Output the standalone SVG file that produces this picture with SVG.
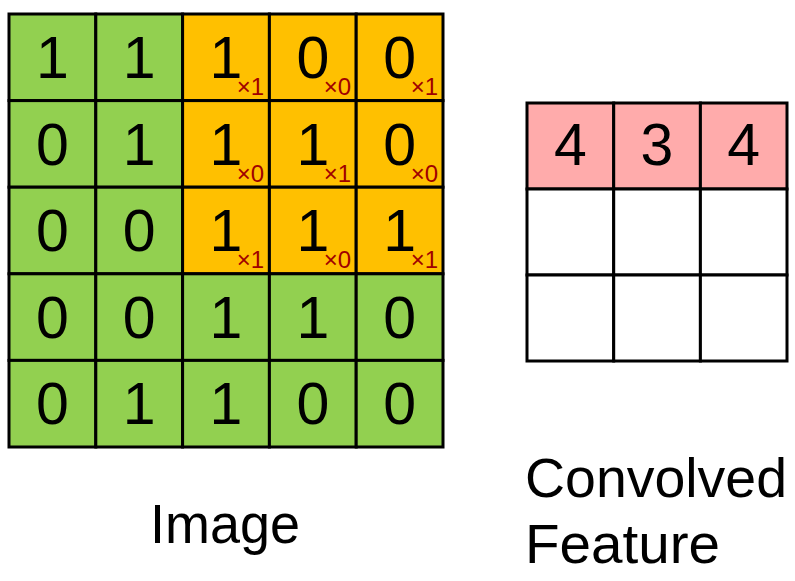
<svg xmlns="http://www.w3.org/2000/svg" width="795" height="581" viewBox="0 0 795 581">
<style>
.g{fill:#92D050;stroke:#000;stroke-width:3}
.o{fill:#FFC000;stroke:#000;stroke-width:3}
.p{fill:#FFABAB;stroke:#000;stroke-width:3}
.w{fill:#fff;stroke:#000;stroke-width:3}
.d{font-family:"Liberation Sans",Arial,sans-serif;font-size:59px;fill:#000;text-anchor:middle}
.s{font-family:"Liberation Sans",Arial,sans-serif;font-size:24px;fill:#A00000;text-anchor:end}
.l{font-family:"Liberation Sans",Arial,sans-serif;font-size:56px;fill:#000}
</style>
<rect width="795" height="581" fill="#fff"/>
<g id="image">
<rect class="g" x="9" y="14" width="86.8" height="86.6"/><text class="d" x="52.4" y="78">1</text>
<rect class="g" x="95.8" y="14" width="86.8" height="86.6"/><text class="d" x="139.2" y="78">1</text>
<rect class="o" x="182.6" y="14" width="86.8" height="86.6"/><text class="d" x="226" y="78">1</text><text class="s" x="264" y="95">×1</text>
<rect class="o" x="269.4" y="14" width="86.8" height="86.6"/><text class="d" x="312.8" y="78">0</text><text class="s" x="351" y="95">×0</text>
<rect class="o" x="356.2" y="14" width="86.8" height="86.6"/><text class="d" x="399.6" y="78">0</text><text class="s" x="438" y="95">×1</text>

<rect class="g" x="9" y="100.6" width="86.8" height="86.6"/><text class="d" x="52.4" y="164.6">0</text>
<rect class="g" x="95.8" y="100.6" width="86.8" height="86.6"/><text class="d" x="139.2" y="164.6">1</text>
<rect class="o" x="182.6" y="100.6" width="86.8" height="86.6"/><text class="d" x="226" y="164.6">1</text><text class="s" x="264" y="181.6">×0</text>
<rect class="o" x="269.4" y="100.6" width="86.8" height="86.6"/><text class="d" x="312.8" y="164.6">1</text><text class="s" x="351" y="181.6">×1</text>
<rect class="o" x="356.2" y="100.6" width="86.8" height="86.6"/><text class="d" x="399.6" y="164.6">0</text><text class="s" x="438" y="181.6">×0</text>

<rect class="g" x="9" y="187.2" width="86.8" height="86.6"/><text class="d" x="52.4" y="251.2">0</text>
<rect class="g" x="95.8" y="187.2" width="86.8" height="86.6"/><text class="d" x="139.2" y="251.2">0</text>
<rect class="o" x="182.6" y="187.2" width="86.8" height="86.6"/><text class="d" x="226" y="251.2">1</text><text class="s" x="264" y="268.2">×1</text>
<rect class="o" x="269.4" y="187.2" width="86.8" height="86.6"/><text class="d" x="312.8" y="251.2">1</text><text class="s" x="351" y="268.2">×0</text>
<rect class="o" x="356.2" y="187.2" width="86.8" height="86.6"/><text class="d" x="399.6" y="251.2">1</text><text class="s" x="438" y="268.2">×1</text>

<rect class="g" x="9" y="273.8" width="86.8" height="86.6"/><text class="d" x="52.4" y="337.8">0</text>
<rect class="g" x="95.8" y="273.8" width="86.8" height="86.6"/><text class="d" x="139.2" y="337.8">0</text>
<rect class="g" x="182.6" y="273.8" width="86.8" height="86.6"/><text class="d" x="226" y="337.8">1</text>
<rect class="g" x="269.4" y="273.8" width="86.8" height="86.6"/><text class="d" x="312.8" y="337.8">1</text>
<rect class="g" x="356.2" y="273.8" width="86.8" height="86.6"/><text class="d" x="399.6" y="337.8">0</text>

<rect class="g" x="9" y="360.4" width="86.8" height="86.6"/><text class="d" x="52.4" y="424.4">0</text>
<rect class="g" x="95.8" y="360.4" width="86.8" height="86.6"/><text class="d" x="139.2" y="424.4">1</text>
<rect class="g" x="182.6" y="360.4" width="86.8" height="86.6"/><text class="d" x="226" y="424.4">1</text>
<rect class="g" x="269.4" y="360.4" width="86.8" height="86.6"/><text class="d" x="312.8" y="424.4">0</text>
<rect class="g" x="356.2" y="360.4" width="86.8" height="86.6"/><text class="d" x="399.6" y="424.4">0</text>
</g>
<g id="convolved">
<rect class="p" x="527" y="103" width="86.7" height="86"/><text class="d" x="570.3" y="164.5">4</text>
<rect class="p" x="613.7" y="103" width="86.7" height="86"/><text class="d" x="657" y="164.5">3</text>
<rect class="p" x="700.4" y="103" width="86.6" height="86"/><text class="d" x="743.7" y="164.5">4</text>
<rect class="w" x="527" y="189" width="86.7" height="86"/>
<rect class="w" x="613.7" y="189" width="86.7" height="86"/>
<rect class="w" x="700.4" y="189" width="86.6" height="86"/>
<rect class="w" x="527" y="275" width="86.7" height="86"/>
<rect class="w" x="613.7" y="275" width="86.7" height="86"/>
<rect class="w" x="700.4" y="275" width="86.6" height="86"/>
</g>
<g id="labels">
<text class="l" x="150" y="543" textLength="150" lengthAdjust="spacingAndGlyphs">Image</text>
<text class="l" x="525" y="497" textLength="262" lengthAdjust="spacingAndGlyphs">Convolved</text>
<text class="l" x="525" y="563" textLength="195" lengthAdjust="spacingAndGlyphs">Feature</text>
</g>
<g id="connectors"></g>
</svg>
